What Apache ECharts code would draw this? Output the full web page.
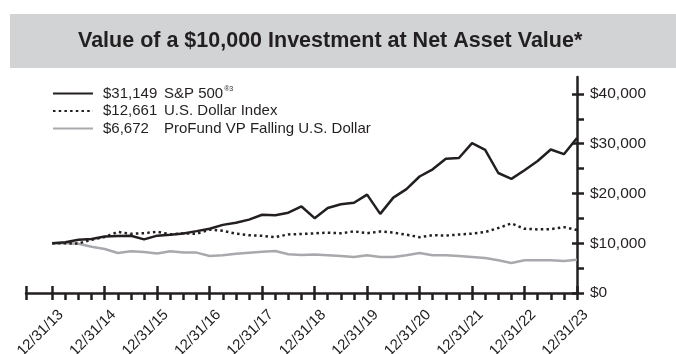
<!DOCTYPE html>
<html><head><meta charset="utf-8">
<script src="https://cdn.jsdelivr.net/npm/echarts@6/dist/echarts.min.js"></script>
<style>html,body{margin:0;padding:0;background:#fff}#c{width:676px;height:354px}</style>
</head><body><div id="c"></div>
<script>
const seriesNames = ['S&P 500', 'U.S. Dollar Index', 'ProFund VP Falling U.S. Dollar'];
const legendValues = ['$31,149', '$12,661', '$6,672'];
const xLabels = ['12/31/13','12/31/14','12/31/15','12/31/16','12/31/17','12/31/18','12/31/19','12/31/20','12/31/21','12/31/22','12/31/23'];
const yLabels = ['$0','$10,000','$20,000','$30,000','$40,000'];
const sp500 = [10000,10181,10714,10835,11369,11477,11509,10768,11526,11681,11969,12430,12905,13687,14111,14743,15722,15603,16139,17383,15033,17085,17821,18123,19766,15893,19158,20868,23403,24848,26973,27130,30122,28737,24112,22934,24667,26516,28836,27891,31149];
const usd = [10000,9986,9946,10714,11254,12263,11904,12012,12297,11793,11986,11901,12743,12511,11922,11605,11485,11239,11778,11860,11990,12128,11985,12390,12017,12349,12142,11706,11213,11623,11525,11748,11927,12257,13052,13978,12906,12780,12830,13237,12661];
const profund = [10000,9980,9900,9300,8850,8050,8380,8240,7920,8380,8120,8120,7450,7570,7900,8110,8300,8440,7770,7660,7720,7580,7420,7230,7570,7230,7230,7570,8040,7570,7570,7430,7230,7030,6570,6020,6570,6570,6570,6420,6672];

const INK = '#231f20';
const FONT = "'Liberation Sans', Arial, Helvetica, sans-serif";
const allQ = [-2].concat(sp500.map((_, i) => i));
const majorQ = xLabels.map((_, i) => i * 4);
const majorQTicks = [-2].concat(majorQ);
const majorY = yLabels.map((_, i) => i * 10000);
const allY = []; for (let v = 0; v <= 40000; v += 5000) allY.push(v);
const toPairs = arr => arr.map((v, i) => [i, v]);

const chart = echarts.init(document.getElementById('c'), null, {renderer: 'canvas'});
chart.setOption({
  animation: false,
  textStyle: {fontFamily: FONT, color: INK},
  graphic: [{type: 'rect', z: -10, shape: {x: 10, y: 14, width: 666, height: 54}, style: {fill: '#d1d3d4'}}],
  title: {text: 'Value of a $10,000 Investment at Net Asset Value*', left: 78, top: 30, padding: 0,
    textStyle: {fontFamily: FONT, fontSize: 21.5, fontWeight: 'bold', color: INK}},
  grid: {left: 26, right: 99, top: 77, bottom: 61, containLabel: false, outerBoundsMode: 'none'},
  legend: {
    orient: 'vertical', left: 52, top: 86, padding: 0, itemWidth: 40, itemHeight: 15, itemGap: 2.5,
    data: seriesNames,
    itemStyle: {color: 'rgba(0,0,0,0)', borderColor: 'rgba(0,0,0,0)', borderWidth: 0, opacity: 0},
    formatter: name => {
      const i = seriesNames.indexOf(name);
      return '{v|' + legendValues[i] + '}{n|' + name + '}' + (i === 0 ? '{s|®3}' : '');
    },
    textStyle: {fontFamily: FONT, fontSize: 15, color: INK,
      rich: {
        v: {fontFamily: FONT, fontSize: 15, color: INK, width: 61, padding: [0, 0, 0, 5]},
        n: {fontFamily: FONT, fontSize: 15, color: INK},
        s: {fontFamily: FONT, fontSize: 7, color: INK, verticalAlign: 'top', padding: [0, 0, 8, 1]}
      }}
  },
  xAxis: [{
    type: 'value', min: -2, max: 40, position: 'bottom',
    axisLine: {show: true, onZero: false, lineStyle: {color: INK, width: 2.5}},
    axisTick: {show: true, customValues: allQ, length: 7, lineStyle: {color: INK, width: 2.5}},
    axisLabel: {customValues: majorQ, rotate: 45, verticalAlign: 'top', margin: 10.5, padding: [5, 0, 0, 0],
      fontSize: 15, color: INK, fontFamily: FONT,
      formatter: v => xLabels[Math.round(v / 4)]},
    splitLine: {show: false}
  }, {
    type: 'value', min: -2, max: 40, position: 'bottom',
    axisLine: {show: false, onZero: false},
    axisTick: {show: true, inside: true, customValues: majorQTicks, length: 7, lineStyle: {color: INK, width: 2.5}},
    axisLabel: {show: false}, splitLine: {show: false}
  }],
  yAxis: [{
    type: 'value', min: 0, max: 43400, position: 'right',
    axisLine: {show: true, onZero: false, lineStyle: {color: INK, width: 2.5}},
    axisTick: {show: true, customValues: allY, length: 7, lineStyle: {color: INK, width: 2.5}},
    axisLabel: {customValues: majorY, margin: 13, fontSize: 15.5, color: INK, fontFamily: FONT,
      formatter: v => yLabels[Math.round(v / 10000)]},
    splitLine: {show: false}
  }, {
    type: 'value', min: 0, max: 43400, position: 'right',
    axisLine: {show: false, onZero: false},
    axisTick: {show: true, inside: true, customValues: majorY, length: 5, lineStyle: {color: INK, width: 2.5}},
    axisLabel: {show: false}, splitLine: {show: false}
  }],
  series: [
    {name: seriesNames[2], type: 'line', symbol: 'none', data: toPairs(profund), z: 2,
      lineStyle: {color: '#a7a9ac', width: 2.5}, itemStyle: {color: '#a7a9ac'}},
    {name: seriesNames[1], type: 'line', symbol: 'none', data: toPairs(usd), z: 3,
      lineStyle: {color: INK, width: 2.5, type: [2.5, 3.2]}, itemStyle: {color: INK}},
    {name: seriesNames[0], type: 'line', symbol: 'none', data: toPairs(sp500), z: 4,
      lineStyle: {color: INK, width: 2.5}, itemStyle: {color: INK}}
  ]
});
</script>
</body></html>
